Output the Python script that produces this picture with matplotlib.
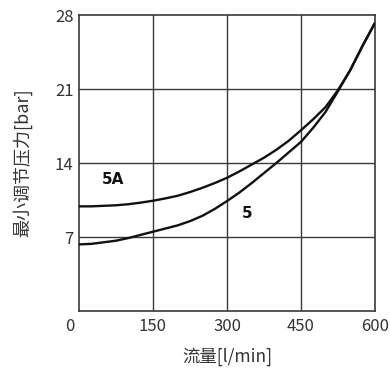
import matplotlib
matplotlib.use("Agg")
import matplotlib.pyplot as plt
import matplotlib.transforms as mtransforms

plt.rcParams['font.family'] = ['Noto Sans CJK SC', 'DejaVu Sans']

flow = [0, 25, 50, 75, 100, 125, 150, 175, 200, 225, 250, 275, 300,
        325, 350, 375, 400, 425, 450, 475, 500, 525, 550, 575, 600]
p_5A = [9.9, 9.9, 9.95, 10.0, 10.1, 10.25, 10.43, 10.65, 10.9, 11.25, 11.65, 12.1, 12.6,
        13.2, 13.85, 14.5, 15.25, 16.1, 17.1, 18.15, 19.3, 20.9, 22.8, 25.1, 27.26]
p_5 = [6.3, 6.35, 6.5, 6.65, 6.9, 7.2, 7.5, 7.8, 8.1, 8.5, 9.0, 9.65, 10.4,
       11.2, 12.1, 13.05, 14.0, 15.0, 16.0, 17.35, 18.85, 20.8, 22.8, 25.1, 27.26]
xticks = [0, 150, 300, 450, 600]
yticks = [7, 14, 21, 28]

fig = plt.figure(figsize=(3.9, 3.71), dpi=100)
ax = fig.add_axes([79/390, 1-311/371, 296/390, 296/371])

grid_c = '#3a3a3a'
for xs in xticks[1:-1]:
    ax.axvline(xs, color=grid_c, lw=1.0, zorder=1)
for ys in yticks[:-1]:
    ax.axhline(ys, color=grid_c, lw=1.0, zorder=1)

ax.plot(flow, p_5A, color='#111111', lw=1.7, zorder=3, solid_capstyle='butt')
ax.plot(flow, p_5, color='#111111', lw=1.7, zorder=3, solid_capstyle='butt')

ax.text(69, 12.4, '5A', fontsize=11, fontweight='bold', family='DejaVu Sans',
        ha='center', va='center', color='#111111')
ax.text(340, 9.2, '5', fontsize=11, fontweight='bold', family='DejaVu Sans',
        ha='center', va='center', color='#111111')

ax.set_xlim(0, 600)
ax.set_ylim(0, 28)
ax.set_xticks(xticks)
ax.set_yticks(yticks)
ax.tick_params(length=0, labelsize=12, colors='#333333')
ax.tick_params(axis='x', pad=5)
ax.tick_params(axis='y', pad=4)
for lab in ax.get_xticklabels() + ax.get_yticklabels():
    lab.set_fontweight('light')
# the "0" label sits a little left of the axis origin in the reference
xl0 = ax.get_xticklabels()[0]
xl0.set_transform(xl0.get_transform() + mtransforms.ScaledTranslation(-9/100, 0, fig.dpi_scale_trans))

for s in ax.spines.values():
    s.set_color(grid_c)
    s.set_linewidth(1.2)

ax.set_xlabel('流量[l/min]', fontsize=12.5, color='#333333', fontweight='light')
ax.xaxis.set_label_coords(0.5, (311-357)/296)
ax.xaxis.label.set_va('center')
ax.set_ylabel('最小调节压力[bar]', fontsize=13, color='#333333', fontweight='light')
ax.yaxis.set_label_coords((22-79)/296, 0.5)
ax.yaxis.label.set_va('center')

fig.savefig('out.png', dpi=100)
